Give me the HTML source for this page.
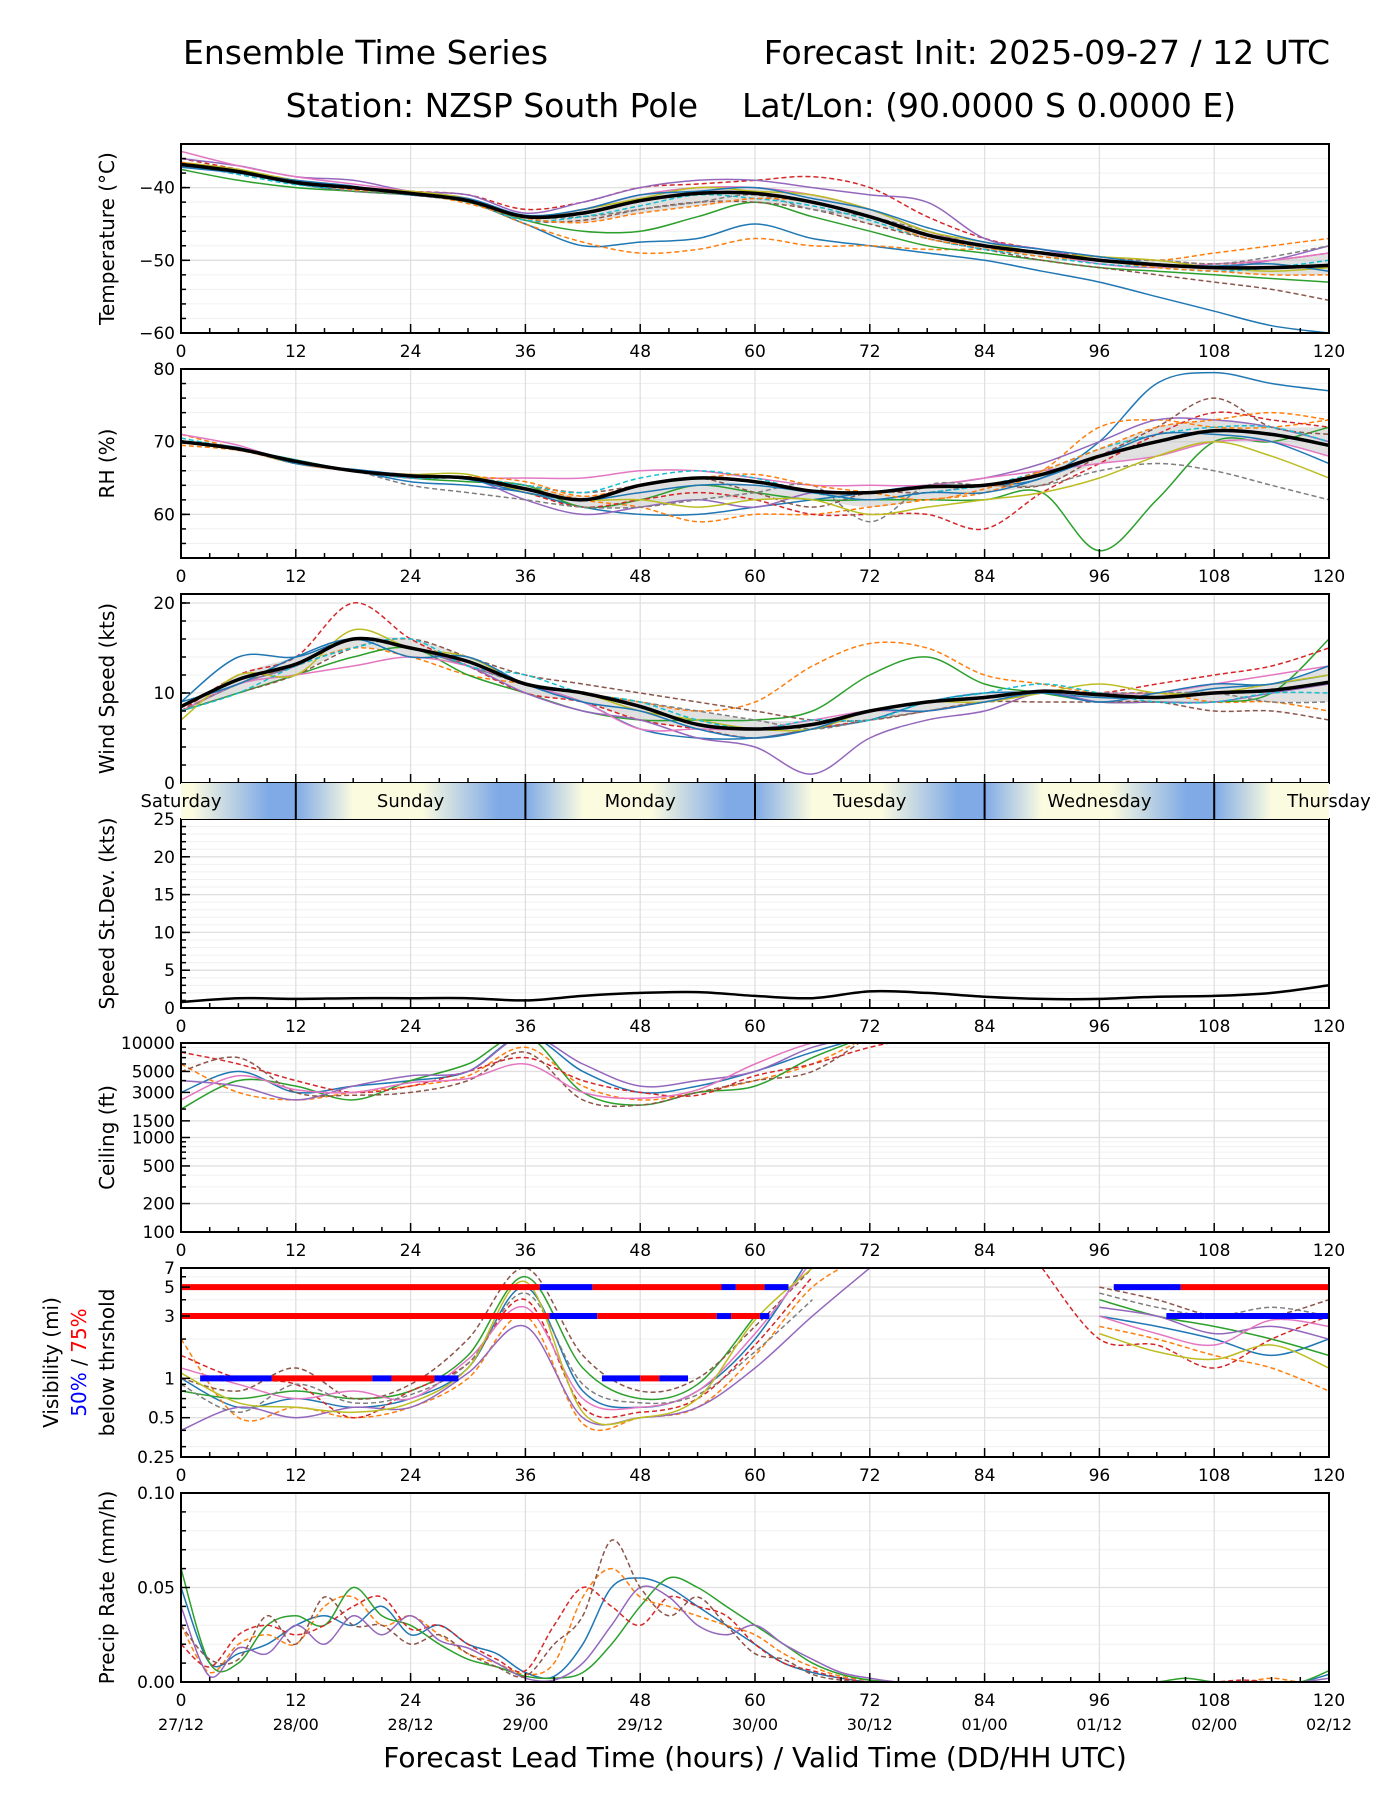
<!DOCTYPE html>
<html><head><meta charset="utf-8"><style>
body{margin:0;background:#fff}
svg{display:block;font-family:"DejaVu Sans","Liberation Sans",sans-serif}
</style></head><body>
<svg id="c" width="1400" height="1800" viewBox="0 0 1400 1800">
<text x="183" y="64" font-size="33">Ensemble Time Series</text>
<text x="1330" y="64" font-size="33" text-anchor="end">Forecast Init: 2025-09-27 / 12 UTC</text>
<text x="698" y="117" font-size="33" text-anchor="end">Station: NZSP South Pole</text>
<text x="742" y="117" font-size="33">Lat/Lon: (90.0000 S 0.0000 E)</text>
<text x="755" y="1767" font-size="28" text-anchor="middle">Forecast Lead Time (hours) / Valid Time (DD/HH UTC)</text>
</svg>
<script>
const hours6=[0,6,12,18,24,30,36,42,48,54,60,66,72,78,84,90,96,102,108,114,120];
const hours3=[0,3,6,9,12,15,18,21,24,27,30,33,36,39,42,45,48,51,54,57,60,63,66,69,72,75,78,81,84,87,90,93,96,99,102,105,108,111,114,117,120];
const xTicks=[0,12,24,36,48,60,72,84,96,108,120];
const dateLabels=["27/12","28/00","28/12","29/00","29/12","30/00","30/12","01/00","01/12","02/00","02/12"];
const dayNames=["Saturday","Sunday","Monday","Tuesday","Wednesday","Thursday"];
const tempMean=[-36.8,-37.8,-39.3,-40,-40.8,-41.8,-44,-43.5,-41.8,-40.8,-40.8,-42,-44,-46.5,-48,-49,-50,-50.6,-51,-51,-50.7];
const tempMembers=[
[-37,-38,-39.5,-40.5,-41,-42,-45,-48,-47.5,-47,-45,-47,-48,-49,-50,-51.5,-53,-55,-57,-59,-60],
[-37,-38,-39.5,-40,-41,-42,-45,-47.5,-49,-48.5,-47,-48,-48,-48.5,-48.5,-49,-49.5,-50,-49,-48,-47],
[-37.5,-39,-40,-40.5,-41,-42,-44.5,-46,-46,-44,-42,-44,-46,-48,-49,-50,-51,-51.5,-52,-52.5,-53],
[-36,-37.5,-39,-40,-40.5,-41,-43,-42,-40,-39.5,-39,-38.5,-40,-44,-47,-48.5,-49.5,-50,-50.5,-50,-49],
[-36,-37,-38.5,-39,-40.5,-41,-43.5,-42,-40,-39,-39,-40,-41,-42,-47,-48.5,-50,-50.5,-51,-50,-48],
[-37,-38,-39.5,-40,-41,-42,-44.5,-44.5,-43,-42,-42,-43,-45,-47,-48.5,-50,-51,-52,-53,-54,-55.5],
[-35,-37,-38.5,-39.5,-40.5,-41.5,-44,-43,-41,-40,-40,-41,-43,-46,-48,-49,-50.5,-51,-50.5,-50,-49],
[-37,-38,-39.5,-40.5,-41,-42,-44,-44,-43,-42,-41,-43,-44,-46,-48,-49,-50,-50,-50.5,-49.5,-48],
[-36.5,-37.5,-39,-40,-40.5,-41.5,-44,-43,-41.5,-40,-40.5,-41,-43,-46,-47.5,-49,-49.5,-50,-51,-51.5,-51],
[-36.8,-38.2,-39.6,-40.2,-40.8,-42,-44.5,-44,-42.5,-41,-41.5,-42.5,-44.5,-47,-48.5,-49.5,-50.5,-51,-51.5,-51,-50],
[-37.2,-38,-39,-39.8,-41,-41.5,-43.8,-43,-41,-40.5,-40,-41.5,-43,-45.5,-47.5,-48.5,-49.5,-50.5,-50.8,-50.5,-51.5],
[-36.5,-37.8,-39.2,-40.3,-40.7,-42.2,-44.2,-44.8,-43.5,-42.5,-41.5,-42,-44,-47,-48.2,-49.5,-50,-51,-51.5,-52,-52]];
const rhMean=[70,69,67.3,66,65.3,65,63.5,62,64,65,64.5,63.2,63,63.8,64,65.5,68,70,71.5,71,69.5];
const rhMembers=[
[70,69,67,66,64.5,64,63,61,60,60,61,62,63,64,64,65,70,78,79.5,78,77],
[71,69,67,66,65.5,65,64,62,61,59,60,60,61,62,63,66,72,73,72,72,73],
[70,69,67.5,66,65,64.5,64,61,62,64,63,62,62,62,62,63,55,62,70,70,72],
[70,69,67,66,65,65,63,61,62,63,62,60,60,60,58,63,67,71,74,73,72],
[70,69,67,66,65,65,62,60,61,62,61,63,63,64,65,67,70,73,73,72,70],
[70,69,67,66,65,65,64,63,64,65,63,61,63,63,64,64,68,72,76,72,71],
[71,69.5,67,66,65.5,65,65,65,66,66,65,64,64,64,65,66,67,68,70,70,68],
[70,69,67,66,64,63,62,61,61,62,63,64,59,64,64,64,66,67,66,64,62],
[70,69,67,66,65.5,65.5,63,62,62,61,62,62,60,61,62,63,65,68,70,68,65],
[70.5,69,67.5,66,65,65,64,63,65,66,65,63,62,63,64,66,69,71,72,72,70],
[70,69.2,67,66.2,65.4,64.8,63,62,63,64,64,63,62,63,63,65,68,71,71,70,67],
[69.5,68.8,67.2,66,65.2,65.2,64.5,62.5,64,65,65.5,64,63,62,63.5,66,69,72,73,74,73]];
const windMean=[8.5,11.5,13.2,16,15,13.5,11,10,8.5,6.5,6,6.5,8,9,9.5,10.2,9.8,9.5,10,10.3,11.2];
const windMembers=[
[9,14,14,16,15,13,11,9,6,5,5,6,7,9,10,10,9.5,9.5,10.5,11,12],
[8,11,13,15,14,12,11,10,9,8,9,13,15.5,15,12,11,10,10,9,9,8],
[8,10,12,14,15,12,10,8,7,7,7,8,12,14,11,10,9,9,9,10,16],
[8,12,14,20,16,13,10,9,7,6,5,6,7,8,9,10,10,11,12,13,15],
[8,11,13,16,15,13,10,8,7,5,4,1,5,7,8,10,9,9,9,10,11],
[8,10,12,15,16,14,12,11,10,9,8,7,7,8,9,9,9,9,8,8,7],
[8,11,12,13,14,13,11,9,6,6,6,7,8,8,9,10,10,10,11,12,13],
[8,11,13,16,15,13,11,10,9,8,7,6,7,8,9,10,10,10,10,9,9],
[7,12,12,17,15,14,11,10,8,7,6,6,8,9,9,10,11,10,10,11,12],
[8,10,13,15,16,13,12,10,9,7,6,7,7,9,10,11,10,9,9,10,10],
[9,11,14,16,14,14,11,9,8,6,5,6,8,8,9,10,9,10,11,11,13]];
const sdValues=[0.8,1.3,1.2,1.3,1.3,1.3,1.0,1.6,2.0,2.1,1.6,1.3,2.2,2.0,1.5,1.2,1.2,1.5,1.6,2.0,3.0];
const ceilMembers=[
[3000,5000,3000,3500,4000,5000,12000,5000,3000,3500,5000,8000,12000,null,null,null,null,null,null,null,null],
[6000,3000,2500,3000,3500,4500,9000,3500,2500,3000,4000,6000,12000,null,null,null,null,null,null,null,null],
[2000,4000,3500,2500,4000,6000,12000,3000,2200,3000,3500,7000,12000,null,null,null,null,null,null,null,null],
[8000,6000,4000,3000,3500,5000,7000,4000,3000,2800,4500,6000,9000,12000,null,null,null,null,null,null,null],
[4000,3500,2500,3500,4500,5000,12000,6000,3500,4000,5000,9000,12000,null,null,null,null,null,null,null,null],
[5000,7000,3000,2800,3000,4000,8000,2500,2200,3000,4000,5000,12000,null,null,null,null,null,null,null,null],
[2500,4500,3200,3000,3800,4200,6000,3000,2600,3200,6000,10000,12000,null,null,null,null,null,null,null,null]];
const visMembers=[
[1,0.6,0.7,0.6,0.7,1.2,5,0.8,0.6,0.8,2,9,null,null,null,null,3,2.5,2,1.5,2],
[2,0.5,0.6,0.5,0.6,1,3,0.45,0.5,0.6,1.5,5,9,null,null,null,2.5,2,1.5,1.2,0.8],
[0.8,0.7,0.8,0.7,0.8,1.5,6,1.2,0.7,0.9,3,null,null,null,null,null,4,3,2.5,2,1.5],
[1.5,1,0.9,0.5,0.8,1.3,4,0.6,0.55,0.7,1.8,6,null,null,null,7,2,1.8,1.2,2,3],
[0.4,0.6,0.5,0.6,0.6,1.1,2.5,0.5,0.5,0.6,1.2,3,7,null,null,null,3.5,3,2.2,2.5,2],
[1,0.8,1.2,0.7,0.9,2,7,1.5,0.8,1,2.5,7,null,null,null,null,5,4,3,3,4],
[1.2,0.9,0.7,0.8,0.7,1.4,3.5,0.7,0.6,0.8,2.2,8,null,null,null,null,3,2.2,1.8,2.8,2.5],
[0.9,0.55,0.9,0.65,0.75,1.3,4.5,0.9,0.65,0.75,1.6,4,null,null,null,null,4.5,3.5,3,3.5,3],
[1.1,0.65,0.6,0.55,0.65,1.2,5.5,0.55,0.5,0.7,2.8,7,null,null,null,null,2.2,1.6,1.4,1.8,1.2]];
const visSegLevel=[5,5,5,5,5,5,5,5,3,3,3,3,3,3,3,3,1,1,1,1,1,1,1,1,1];
const visSegStart=[0,37.5,43,56.5,58,61,97.5,104.5,0,38.5,43.5,56,57.5,60.5,103,107,4,9.5,20,22,26.5,44,48,50,2];
const visSegEnd=[37.5,43,56.5,58,61,63.5,104.5,120,38.5,43.5,56,57.5,60.5,61.5,107,120,9.5,20,22,26.5,29,48,50,53,4.5];
const visSegColor=["r","b","r","b","r","b","b","r","r","b","r","b","r","b","b","b","b","r","b","r","b","b","r","b","b"];
const precipMembers=[
[0.05,0.01,0.015,0.02,0.03,0.035,0.03,0.04,0.025,0.03,0.02,0.015,0.005,0.003,0.02,0.05,0.055,0.05,0.04,0.03,0.02,0.01,0.005,0.002,0,0,0,0,0,0,0,0,0,0,0,0,0,0,0,0,0.004],
[0.03,0.005,0.02,0.025,0.02,0.04,0.045,0.03,0.035,0.025,0.015,0.01,0.004,0.01,0.045,0.06,0.045,0.04,0.035,0.03,0.025,0.015,0.008,0.003,0.001,0,0,0,0,0,0,0,0,0,0,0,0,0,0.002,0,0],
[0.06,0.01,0.01,0.03,0.035,0.03,0.05,0.035,0.03,0.02,0.012,0.008,0.003,0.002,0.005,0.02,0.04,0.055,0.05,0.04,0.03,0.02,0.01,0.004,0.001,0,0,0,0,0,0,0,0,0,0,0.002,0,0,0,0,0.006],
[0.02,0.008,0.025,0.03,0.025,0.03,0.04,0.045,0.028,0.03,0.02,0.012,0.006,0.03,0.05,0.04,0.03,0.045,0.04,0.035,0.02,0.01,0.006,0.002,0,0,0,0,0,0,0,0,0,0,0,0,0,0.001,0,0,0],
[0.04,0.003,0.018,0.015,0.03,0.02,0.035,0.025,0.035,0.022,0.018,0.01,0.002,0.001,0.01,0.03,0.05,0.045,0.03,0.025,0.03,0.02,0.012,0.005,0.002,0,0,0,0,0,0,0,0,0,0,0,0,0,0,0,0.002],
[0.03,0.012,0.012,0.035,0.02,0.045,0.03,0.03,0.02,0.025,0.015,0.008,0.003,0.02,0.035,0.075,0.05,0.035,0.045,0.03,0.015,0.012,0.004,0.001,0,0,0,0,0,0,0,0,0,0,0,0,0,0,0,0,0]];

const NS='http://www.w3.org/2000/svg';
const svg=document.getElementById('c');
const L=181,W=1148,H=189;
const tops=[144,369,594,819,1043,1268,1493];
const colors=['#1f77b4','#ff7f0e','#2ca02c','#d62728','#9467bd','#8c564b','#e377c2','#7f7f7f','#bcbd22','#17becf'];
function X(h){return L+h/120*W;}
function mk(tag,attrs,parent){const e=document.createElementNS(NS,tag);for(const k in attrs)e.setAttribute(k,attrs[k]);(parent||svg).appendChild(e);return e;}
function smoothPath(pts){
  let d='';let seg=[];const segs=[];
  pts.forEach(p=>{if(p===null){if(seg.length)segs.push(seg);seg=[];}else seg.push(p);});
  if(seg.length)segs.push(seg);
  segs.forEach(s=>{
    d+='M'+s[0][0].toFixed(1)+','+s[0][1].toFixed(1);
    for(let i=0;i<s.length-1;i++){
      const p0=s[i-1]||s[i],p1=s[i],p2=s[i+1],p3=s[i+2]||s[i+1];
      const c1x=p1[0]+(p2[0]-p0[0])/6,c1y=p1[1]+(p2[1]-p0[1])/6;
      const c2x=p2[0]-(p3[0]-p1[0])/6,c2y=p2[1]-(p3[1]-p1[1])/6;
      d+='C'+c1x.toFixed(1)+','+c1y.toFixed(1)+' '+c2x.toFixed(1)+','+c2y.toFixed(1)+' '+p2[0].toFixed(1)+','+p2[1].toFixed(1);
    }
  });
  return d;
}
function linY(top,min,max){return v=>top+H-(v-min)/(max-min)*H;}
function logY(top,min,max){return v=>top+H-(Math.log(v)-Math.log(min))/(Math.log(max)-Math.log(min))*H;}

function panel(i,name,yf,majors,minors,labels,ylabel,showX){
  const top=tops[i];
  const g=mk('g',{});
  
  
  const cp=mk('clipPath',{id:'cp'+i},g);mk('rect',{x:L,y:top,width:W,height:H},cp);
  minors.forEach(v=>mk('line',{x1:L,x2:L+W,y1:yf(v),y2:yf(v),stroke:'#f0f0f0','stroke-width':1},g));
  majors.forEach(v=>mk('line',{x1:L,x2:L+W,y1:yf(v),y2:yf(v),stroke:'#e0e0e0','stroke-width':1.3},g));
  xTicks.forEach(h=>mk('line',{x1:X(h),x2:X(h),y1:top,y2:top+H,stroke:'#e0e0e0','stroke-width':1.3},g));
  const data=mk('g',{'clip-path':'url(#cp'+i+')'},g);
  const frame=mk('g',{},g);
  mk('rect',{x:L,y:top,width:W,height:H,fill:'none',stroke:'#000','stroke-width':2},frame);
  for(let h=0;h<=120;h+=3){const len=h%12===0?9:5;mk('line',{x1:X(h),x2:X(h),y1:top+H,y2:top+H-len,stroke:'#000','stroke-width':1.5},frame);}
  if(showX!==false) xTicks.forEach(h=>{const t=mk('text',{x:X(h),y:top+H+24,'font-size':17,'text-anchor':'middle'},frame);t.textContent=h;
    });
  minors.forEach(v=>mk('line',{x1:L,x2:L+5,y1:yf(v),y2:yf(v),stroke:'#000','stroke-width':1.5},frame));
  majors.forEach((v,k)=>{mk('line',{x1:L,x2:L+9,y1:yf(v),y2:yf(v),stroke:'#000','stroke-width':1.5},frame);
    const t=mk('text',{x:L-6,y:yf(v)+6,'font-size':17,'text-anchor':'end'},frame);t.textContent=labels[k];
    });
  if(ylabel){const t=mk('text',{x:0,y:0,'font-size':20,'text-anchor':'middle',transform:'translate(114,'+(top+H/2)+') rotate(-90)'},frame);t.textContent=ylabel;
    }
  return data;
}
function drawMembers(g,members,hrs,yf,name,lo,hi){
  members.forEach((m,k)=>{
    const pts=m.map((v,j)=>v===null?null:[X(hrs[j]),yf(Math.max(lo,Math.min(hi,v)))]);
    const p=mk('path',{d:smoothPath(pts),fill:'none',stroke:colors[k%10],'stroke-width':1.5},g);
    if(k%2===1)p.setAttribute('stroke-dasharray','5,3');
    
    
  });
}
function drawMean(g,vals,yf,name){
  const p=mk('path',{d:smoothPath(vals.map((v,j)=>[X(hours6[j]),yf(v)])),fill:'none',stroke:'#000','stroke-width':3.5},g);
  
  
}
function band(g,members,yf){
  const lo=[],hi=[];
  hours6.forEach((h,j)=>{const vs=members.map(m=>m[j]).sort((a,b)=>a-b);const q=Math.floor(vs.length/4);lo.push([X(h),yf(vs[q])]);hi.push([X(h),yf(vs[vs.length-1-q])]);});
  const d=smoothPath(hi)+'L'+smoothPath(lo.slice().reverse()).slice(1)+'Z';
  const p=mk('path',{d:d,fill:'#c8c8c8','fill-opacity':0.55,stroke:'none'},g);
  
  
}
function range(a,b,s){const r=[];for(let v=a;v<=b+1e-9;v+=s)r.push(+v.toFixed(3));return r;}

let yf=linY(tops[0],-60,-34);
let g=panel(0,'temperature',yf,[-40,-50,-60],range(-60,-34,2),['\u221240','\u221250','\u221260'],'Temperature (\u00b0C)');
band(g,tempMembers,yf);drawMembers(g,tempMembers,hours6,yf,'temperature',-70,-30);drawMean(g,tempMean,yf,'temperature-mean-line');
yf=linY(tops[1],54,80);
g=panel(1,'rh',yf,[60,70,80],range(54,80,2),['60','70','80'],'RH (%)');
band(g,rhMembers,yf);drawMembers(g,rhMembers,hours6,yf,'rh',40,90);drawMean(g,rhMean,yf,'rh-mean-line');
yf=linY(tops[2],0,21);
g=panel(2,'wind-speed',yf,[0,10,20],range(0,20,2),['0','10','20'],'Wind Speed (kts)',false);
band(g,windMembers,yf);drawMembers(g,windMembers,hours6,yf,'wind',0,30);drawMean(g,windMean,yf,'wind-mean-line');
yf=linY(tops[3],0,25);
g=panel(3,'speed-stdev',yf,[0,5,10,15,20,25],range(0,25,1),['0','5','10','15','20','25'],'Speed St.Dev. (kts)');
(function(){const p=mk('path',{d:smoothPath(sdValues.map((v,j)=>[X(hours6[j]),yf(v)])),fill:'none',stroke:'#000','stroke-width':2.5},g);
})();
yf=logY(tops[4],100,10000);
g=panel(4,'ceiling',yf,[100,200,500,1000,1500,3000,5000,10000],[300,400,600,700,800,900,2000,4000,6000,7000,8000,9000],['100','200','500','1000','1500','3000','5000','10000'],'Ceiling (ft)');
drawMembers(g,ceilMembers,hours6,yf,'ceiling',50,20000);
yf=logY(tops[5],0.25,7);
g=panel(5,'visibility',yf,[0.25,0.5,1,3,5,7],[0.3,0.4,0.6,0.7,0.8,0.9,2,4,6],['0.25','0.5','1','3','5','7'],null);
drawMembers(g,visMembers,hours6,yf,'visibility',0.2,20);
visSegLevel.forEach((lv,k)=>{
  const l=mk('line',{x1:X(visSegStart[k]),x2:X(visSegEnd[k]),y1:yf(lv),y2:yf(lv),stroke:visSegColor[k]==='r'?'#ff0000':'#0000ff','stroke-width':6},g);
  
  
});
(function(){const cy=tops[5]+H/2;
const t1=mk('text',{x:0,y:0,'font-size':20,'text-anchor':'middle',transform:'translate(58,'+cy+') rotate(-90)'});t1.textContent='Visibility (mi)';

const t2=mk('text',{x:0,y:0,'font-size':20,'text-anchor':'middle',transform:'translate(86,'+cy+') rotate(-90)'});

const a=mk('tspan',{fill:'#0000ff'},t2);a.textContent='50%';const b=mk('tspan',{fill:'#000'},t2);b.textContent=' / ';const c=mk('tspan',{fill:'#ff0000'},t2);c.textContent='75%';
const t3=mk('text',{x:0,y:0,'font-size':20,'text-anchor':'middle',transform:'translate(114,'+cy+') rotate(-90)'});t3.textContent='below thrshold';
})();
yf=linY(tops[6],0,0.1);
g=panel(6,'precip',yf,[0,0.05,0.1],[0.01,0.02,0.03,0.04,0.06,0.07,0.08,0.09],['0.00','0.05','0.10'],'Precip Rate (mm/h)');
drawMembers(g,precipMembers,hours3,yf,'precip',0,0.1);
xTicks.forEach((h,k)=>{const t=mk('text',{x:X(h),y:tops[6]+H+48,'font-size':16,'text-anchor':'middle'});t.textContent=dateLabels[k];
  });

(function(){
  const y0=783,h=36;
  const defs=mk('defs',{});
  const gr=mk('linearGradient',{id:'dayg',x1:0,x2:1,y1:0,y2:0},defs);
  [[0,'#7faae6'],[0.25,'#fbfbe0'],[0.55,'#fbfbe0'],[0.88,'#7faae6'],[1,'#7faae6']].forEach(s=>mk('stop',{offset:s[0],'stop-color':s[1]},gr));
  const cp=mk('clipPath',{id:'daycp'},defs);mk('rect',{x:L,y:y0,width:W,height:h},cp);
  const bar=mk('g',{'clip-path':'url(#daycp)'});
  
  for(let d=-12;d<120;d+=24){const r=mk('rect',{x:X(d),y:y0,width:X(d+24)-X(d),height:h,fill:'url(#dayg)'},bar);
    }
  [12,36,60,84,108].forEach(hh=>mk('line',{x1:X(hh),x2:X(hh),y1:y0,y2:y0+h,stroke:'#000','stroke-width':2}));
  dayNames.forEach((n,k)=>{const t=mk('text',{x:X(k*24),y:y0+24,'font-size':18,'text-anchor':'middle'});t.textContent=n;
    });
})();
</script>
</body></html>
